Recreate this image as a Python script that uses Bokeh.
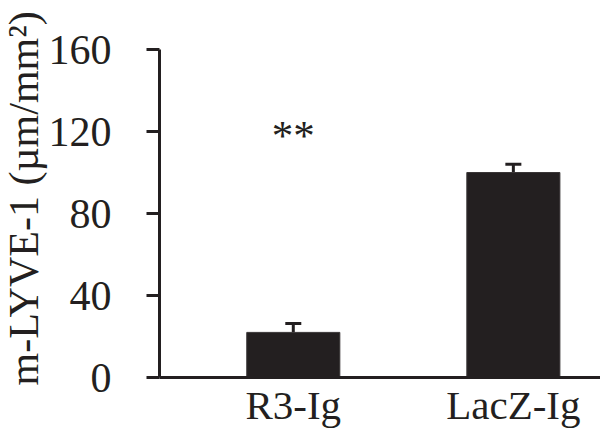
from bokeh.plotting import figure
from bokeh.models import ColumnDataSource, FixedTicker, Whisker, TeeHead, Range1d, Title
from bokeh.core.properties import value
from bokeh.embed import file_html
from bokeh.resources import INLINE

# ---- data ----
categories = ["R3-Ig", "LacZ-Ig"]
means = [22, 100]
errors = [4.4, 4.0]
significance = ["**", ""]
significance_y = [118, 0]
y_ticks = [0, 40, 80, 120, 160]
y_label = "m-LYVE-1 (µm/mm²)"

INK = "#231f20"
FONT = "Liberation Serif"

xs = [i + 1 for i in range(len(categories))]
src = ColumnDataSource(dict(
    x=xs,
    top=means,
    upper=[m + e for m, e in zip(means, errors)],
    sig=significance,
    sig_y=significance_y,
))

p = figure(width=600, height=430, output_backend="svg", toolbar_location=None,
           x_range=Range1d(0.392, 2.396), y_range=Range1d(0, 160),
           min_border_top=49, min_border_right=0, min_border_left=0, min_border_bottom=0)
p.outline_line_color = None
p.xgrid.visible = False
p.ygrid.visible = False

p.vbar(x="x", top="top", width=0.423, bottom=0, source=src,
       fill_color=INK, line_color="#3a3637", line_width=1)

w = Whisker(base="x", upper="upper", lower="top", source=src, dimension="height",
            line_color=INK, line_width=3,
            upper_head=TeeHead(size=16, line_color=INK, line_width=3),
            lower_head=None)
p.add_layout(w)

p.text(x="x", y="sig_y", text="sig", source=src, text_align="center",
       text_baseline="alphabetic", text_font=value(FONT), text_font_size="43px",
       text_color=INK)

# y axis
ya = p.yaxis[0]
ya.ticker = FixedTicker(ticks=y_ticks)
ya.minor_tick_line_color = None
ya.major_tick_in = 0
ya.major_tick_out = 13
ya.major_tick_line_width = 3
ya.major_tick_line_color = INK
ya.axis_line_width = 3
ya.axis_line_color = INK
ya.major_label_text_font = FONT
ya.major_label_text_font_size = "42px"
ya.major_label_text_color = INK
ya.major_label_standoff = 35

# y axis title, anchored at its start like the reference
p.add_layout(Title(text=y_label, align="left", offset=-8, standoff=-3,
                   text_font=FONT, text_font_style="normal", text_font_size="42px",
                   text_color=INK), "left")

# x axis
xa = p.xaxis[0]
xa.ticker = FixedTicker(ticks=xs)
xa.major_label_overrides = {x: c for x, c in zip(xs, categories)}
xa.minor_tick_line_color = None
xa.major_tick_in = 0
xa.major_tick_out = 0
xa.axis_line_width = 3
xa.axis_line_color = INK
xa.major_label_text_font = FONT
xa.major_label_text_font_size = "41px"
xa.major_label_text_color = INK
xa.major_label_standoff = 4

open("out.html", "w").write(file_html(p, INLINE))
